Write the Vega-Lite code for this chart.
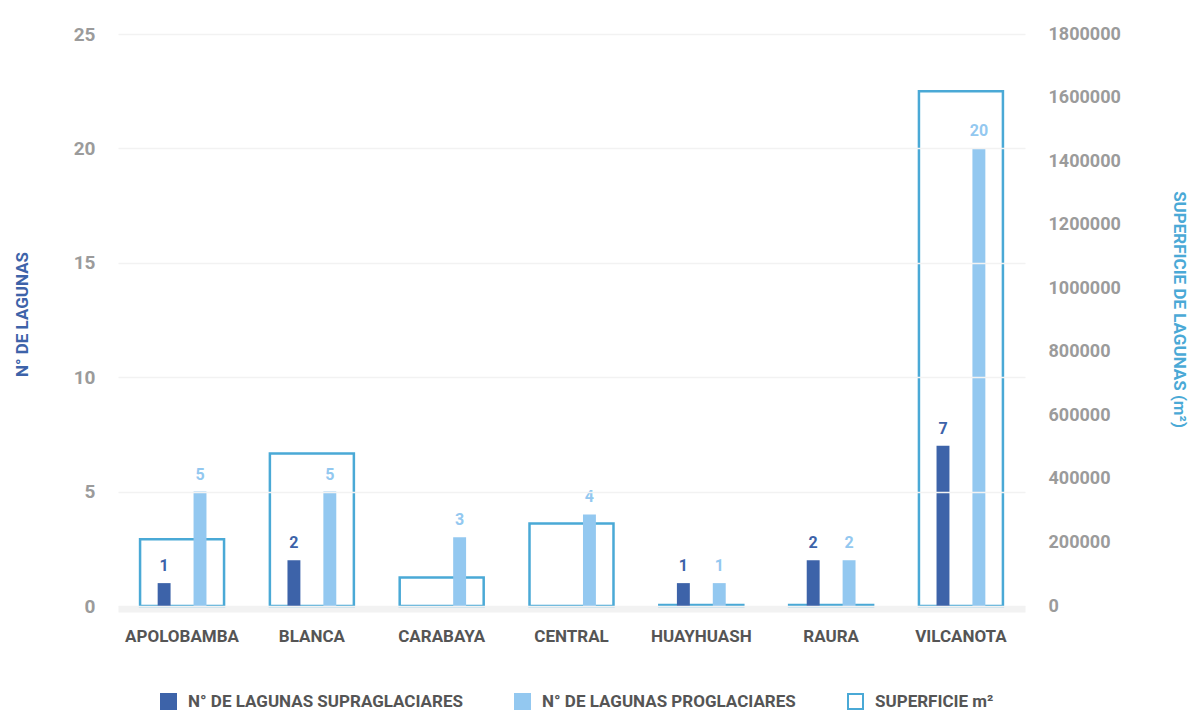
{
  "$schema": "https://vega.github.io/schema/vega-lite/v6.json",
  "width": 907,
  "height": 572,
  "autosize": {"type": "none"},
  "padding": {"left": 118, "top": 34, "right": 165, "bottom": 107},
  "background": "white",
  "config": {
    "font": "Roboto, Liberation Sans, sans-serif",
    "view": {"stroke": null},
    "legend": {
      "orient": "none",
      "legendX": 42,
      "legendY": 659,
      "direction": "horizontal",
      "title": null,
      "columnPadding": 48,
      "symbolSize": 225,
      "symbolType": "square",
      "symbolStrokeWidth": 2,
      "labelFontSize": 17,
      "labelFontWeight": "bold",
      "labelColor": "#555555",
      "labelLimit": 400,
      "labelOffset": 11
    }
  },
  "datasets": {
    "conteo": [
      {"cordillera": "APOLOBAMBA", "serie": "N° DE LAGUNAS SUPRAGLACIARES", "lagunas": 1},
      {"cordillera": "APOLOBAMBA", "serie": "N° DE LAGUNAS PROGLACIARES", "lagunas": 5},
      {"cordillera": "BLANCA", "serie": "N° DE LAGUNAS SUPRAGLACIARES", "lagunas": 2},
      {"cordillera": "BLANCA", "serie": "N° DE LAGUNAS PROGLACIARES", "lagunas": 5},
      {"cordillera": "CARABAYA", "serie": "N° DE LAGUNAS SUPRAGLACIARES", "lagunas": 0},
      {"cordillera": "CARABAYA", "serie": "N° DE LAGUNAS PROGLACIARES", "lagunas": 3},
      {"cordillera": "CENTRAL", "serie": "N° DE LAGUNAS SUPRAGLACIARES", "lagunas": 0},
      {"cordillera": "CENTRAL", "serie": "N° DE LAGUNAS PROGLACIARES", "lagunas": 4},
      {"cordillera": "HUAYHUASH", "serie": "N° DE LAGUNAS SUPRAGLACIARES", "lagunas": 1},
      {"cordillera": "HUAYHUASH", "serie": "N° DE LAGUNAS PROGLACIARES", "lagunas": 1},
      {"cordillera": "RAURA", "serie": "N° DE LAGUNAS SUPRAGLACIARES", "lagunas": 2},
      {"cordillera": "RAURA", "serie": "N° DE LAGUNAS PROGLACIARES", "lagunas": 2},
      {"cordillera": "VILCANOTA", "serie": "N° DE LAGUNAS SUPRAGLACIARES", "lagunas": 7},
      {"cordillera": "VILCANOTA", "serie": "N° DE LAGUNAS PROGLACIARES", "lagunas": 20}
    ],
    "superficie": [
      {"cordillera": "APOLOBAMBA", "serie": "SUPERFICIE m²", "superficie": 210000},
      {"cordillera": "BLANCA", "serie": "SUPERFICIE m²", "superficie": 480000},
      {"cordillera": "CARABAYA", "serie": "SUPERFICIE m²", "superficie": 90000},
      {"cordillera": "CENTRAL", "serie": "SUPERFICIE m²", "superficie": 260000},
      {"cordillera": "HUAYHUASH", "serie": "SUPERFICIE m²", "superficie": 3000},
      {"cordillera": "RAURA", "serie": "SUPERFICIE m²", "superficie": 3000},
      {"cordillera": "VILCANOTA", "serie": "SUPERFICIE m²", "superficie": 1620000}
    ]
  },
  "encoding": {
    "x": {
      "field": "cordillera",
      "type": "nominal",
      "sort": null,
      "scale": {"paddingInner": 0.353, "paddingOuter": 0.17},
      "axis": {
        "title": null,
        "labelAngle": 0,
        "ticks": false,
        "domain": true,
        "domainColor": "#f2f2f2",
        "domainWidth": 6,
        "offset": 3,
        "labelPadding": 19,
        "labelFontSize": 17,
        "labelFontWeight": "bold",
        "labelColor": "#555555"
      }
    }
  },
  "layer": [
    {
      "data": {"name": "superficie"},
      "mark": {"type": "bar", "fill": "white", "strokeWidth": 2.5},
      "encoding": {
        "y": {
          "field": "superficie",
          "type": "quantitative",
          "scale": {"domain": [0, 1800000], "nice": false},
          "axis": {
            "orient": "right",
            "values": [0, 200000, 400000, 600000, 800000, 1000000, 1200000, 1400000, 1600000, 1800000],
            "format": "d",
            "grid": false,
            "domain": false,
            "ticks": false,
            "labelPadding": 23,
            "labelFontSize": 18,
            "labelFontWeight": "bold",
            "labelColor": "#9b9b9b",
            "title": "SUPERFICIE DE LAGUNAS (m²)",
            "titleAngle": 90,
            "titleX": 153,
            "titleY": 275,
            "titleAlign": "center",
            "titleBaseline": "middle",
            "titleFontSize": 17,
            "titleFontWeight": "bold",
            "titleColor": "#4aa9d6"
          }
        },
        "stroke": {
          "field": "serie",
          "type": "nominal",
          "scale": {
            "domain": ["N° DE LAGUNAS SUPRAGLACIARES", "N° DE LAGUNAS PROGLACIARES", "SUPERFICIE m²"],
            "range": ["#3d63a9", "#93c8f0", "#4aa9d6"]
          }
        }
      }
    },
    {
      "data": {"name": "conteo"},
      "layer": [
        {
          "mark": {"type": "bar"},
          "encoding": {
            "xOffset": {
              "field": "serie",
              "type": "nominal",
              "sort": null,
              "scale": {
                "domain": ["N° DE LAGUNAS SUPRAGLACIARES", "N° DE LAGUNAS PROGLACIARES"],
                "paddingInner": 0.64,
                "paddingOuter": 0.49
              }
            },
            "y": {
              "field": "lagunas",
              "type": "quantitative",
              "scale": {"domain": [0, 25], "nice": false},
              "axis": {
                "orient": "left",
                "values": [0, 5, 10, 15, 20, 25],
                "grid": true,
                "gridColor": "#f2f2f2",
                "gridWidth": 1.5,
                "zindex": 1,
                "domain": false,
                "ticks": false,
                "labelPadding": 23,
                "labelFontSize": 19,
                "labelFontWeight": "bold",
                "labelColor": "#9b9b9b",
                "title": "N° DE LAGUNAS",
                "titleAngle": 270,
                "titleX": -96,
                "titleY": 280,
                "titleAlign": "center",
                "titleBaseline": "middle",
                "titleFontSize": 17,
                "titleFontWeight": "bold",
                "titleColor": "#3d63a9"
              }
            },
            "fill": {
              "field": "serie",
              "type": "nominal",
              "scale": {
                "domain": ["N° DE LAGUNAS SUPRAGLACIARES", "N° DE LAGUNAS PROGLACIARES", "SUPERFICIE m²"],
                "range": ["#3d63a9", "#93c8f0", "white"]
              }
            }
          }
        },
        {
          "transform": [{"filter": "datum.lagunas > 0"}],
          "mark": {"type": "text", "dy": -12, "baseline": "alphabetic", "fontSize": 16, "fontWeight": "bold"},
          "encoding": {
            "xOffset": {"field": "serie", "type": "nominal", "sort": null},
            "y": {"field": "lagunas", "type": "quantitative"},
            "text": {"field": "lagunas", "type": "quantitative"},
            "fill": {"field": "serie", "type": "nominal"}
          }
        }
      ]
    }
  ],
  "resolve": {"scale": {"y": "independent"}}
}
